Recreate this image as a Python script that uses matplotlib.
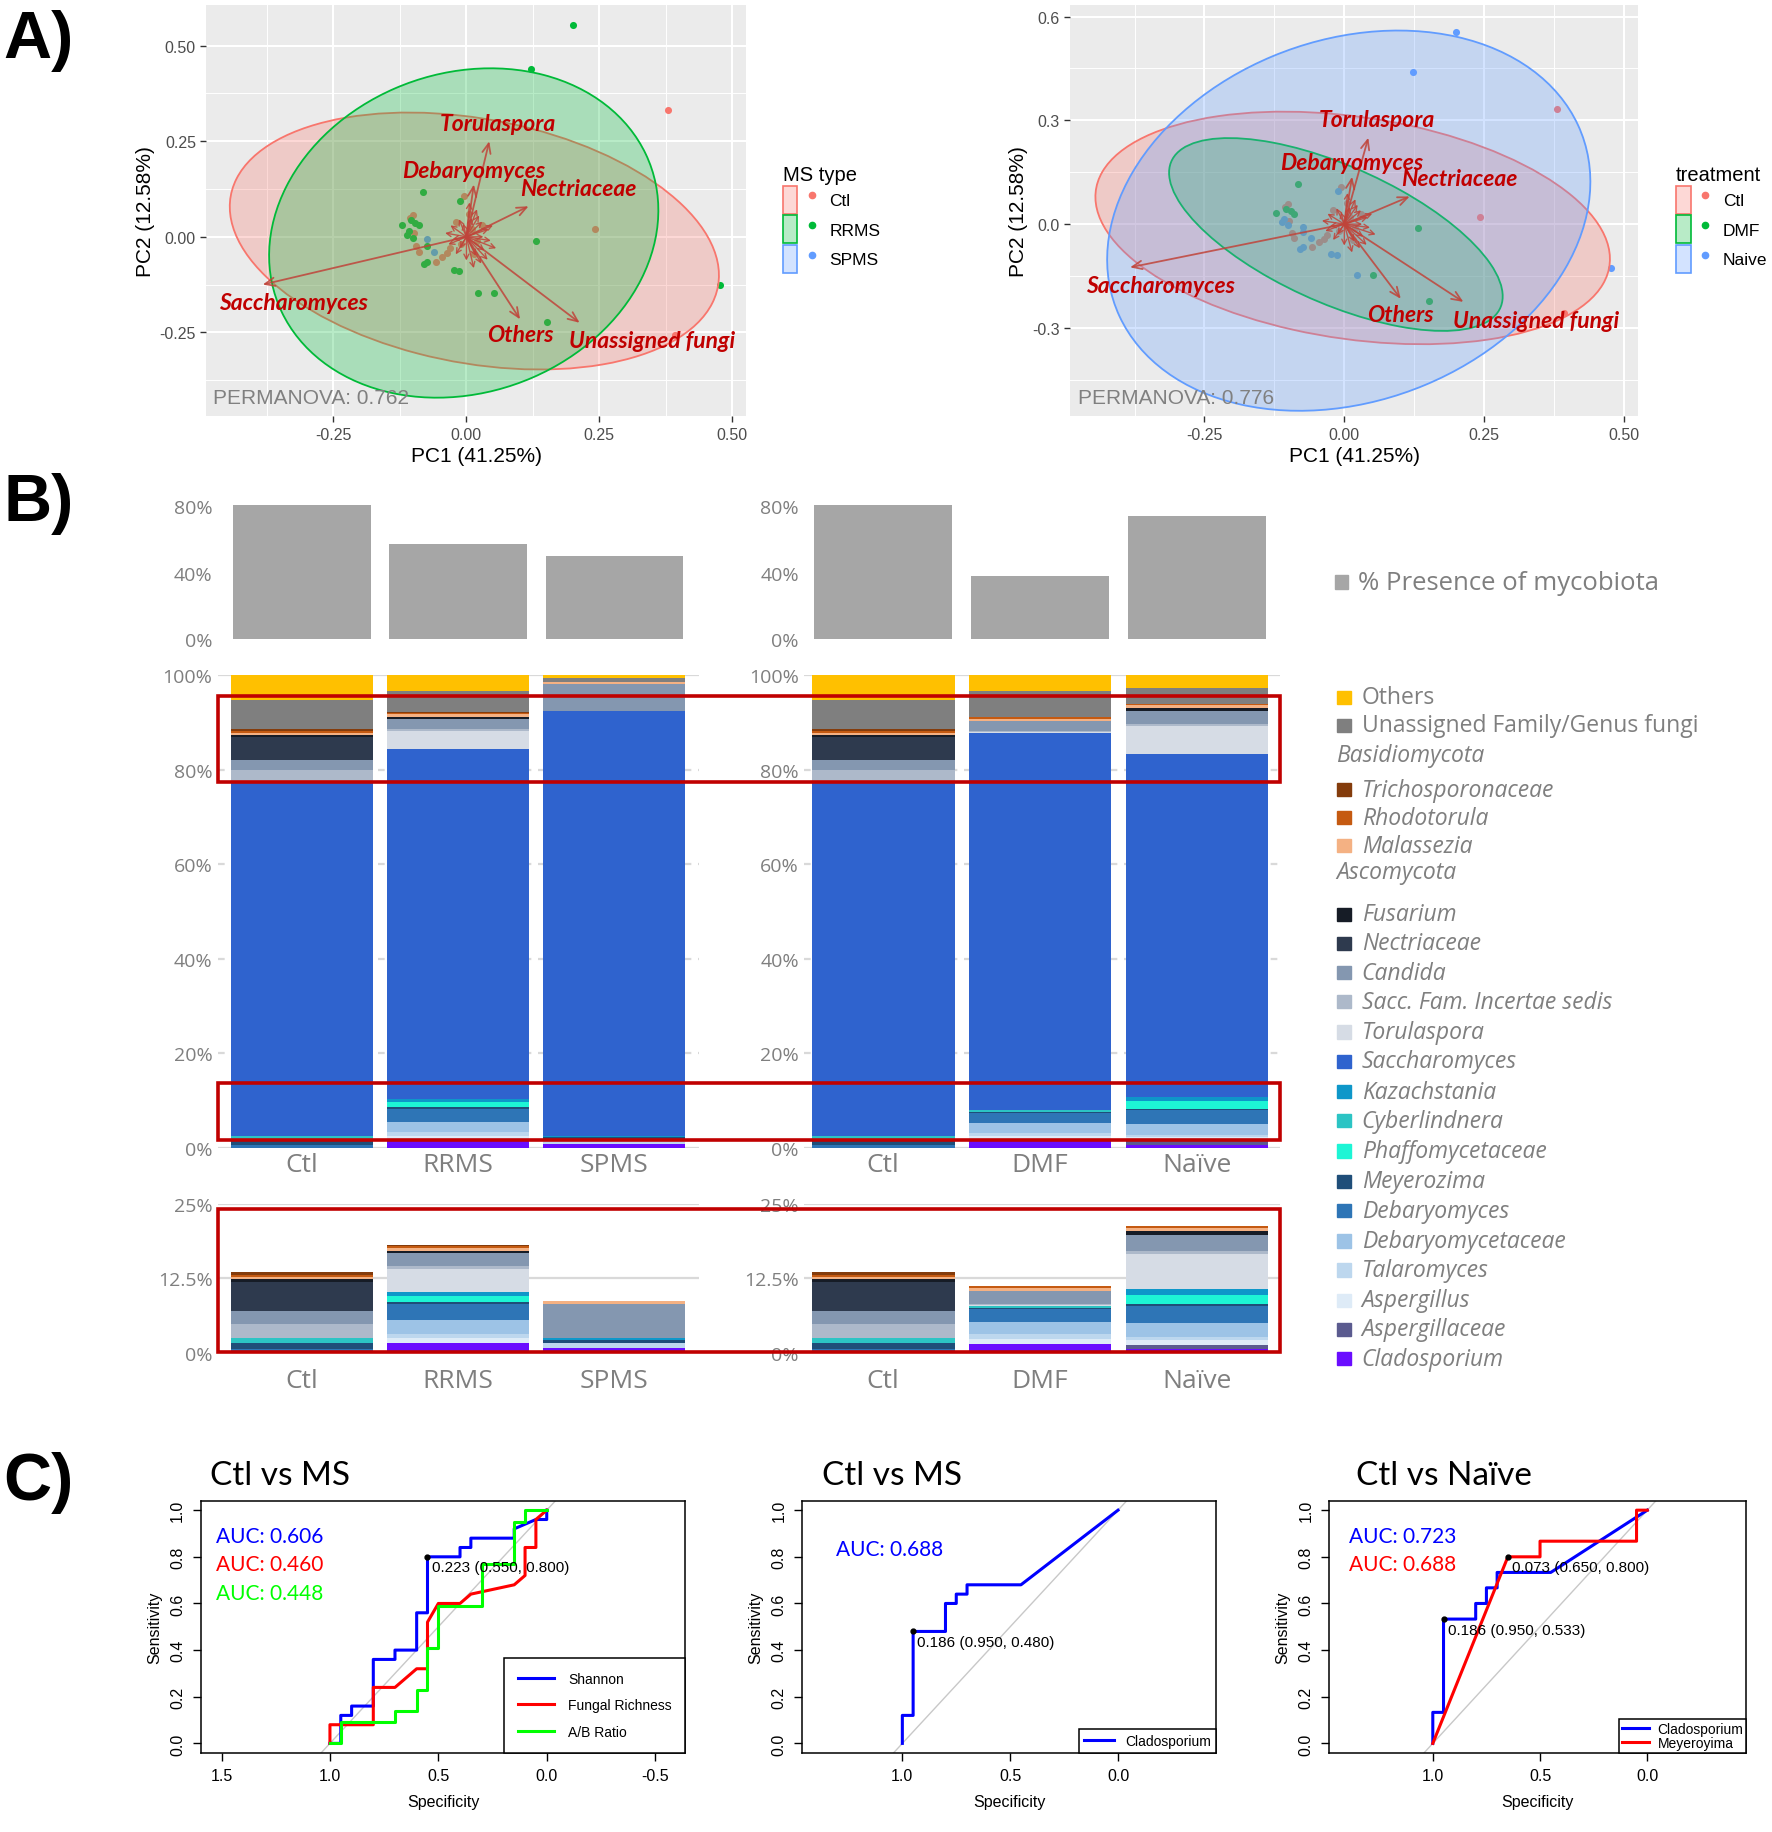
import matplotlib
matplotlib.use("Agg")
import matplotlib.pyplot as plt
from matplotlib.patches import Ellipse, Rectangle, Patch
from matplotlib.lines import Line2D
from matplotlib.legend_handler import HandlerTuple
from matplotlib.colors import to_rgba

plt.rcParams['font.family'] = ['Liberation Sans', 'DejaVu Sans']

# ======================= DATA =======================
# ---- Panel A: PCA scores ----
ctl_pc1 = [0.380, 0.242, 0.392, -0.106, -0.100, -0.098, -0.094, -0.090, -0.058, -0.045,
           -0.037, -0.030, -0.005, 0.010, 0.020, -0.010, 0.030, 0.015, -0.020, 0.005]
ctl_pc2 = [0.333, 0.021, -0.258, 0.050, 0.058, 0.010, -0.025, -0.040, -0.066, -0.052,
           -0.042, -0.030, 0.106, 0.020, -0.010, -0.020, 0.030, -0.045, 0.040, 0.060]
ms_pc1 = [0.200, 0.122, 0.476, -0.082, -0.012, 0.131, 0.022, 0.052, 0.152, -0.023, -0.013, -0.080,
          -0.074, -0.122, -0.096, -0.112, -0.101, -0.074, -0.074, -0.104, -0.108, -0.090, -0.060]
ms_pc2 = [0.555, 0.439, -0.126, 0.117, 0.095, -0.011, -0.146, -0.148, -0.222, -0.087, -0.089, -0.072,
          -0.066, 0.032, 0.037, 0.006, -0.003, -0.024, -0.007, 0.043, 0.015, 0.030, -0.040]
ms_type = ['RRMS'] * 18 + ['SPMS'] + ['RRMS', 'RRMS', 'RRMS', 'SPMS']
ms_treatment = ['Naive', 'Naive', 'Naive', 'DMF', 'Naive', 'DMF', 'Naive', 'DMF', 'DMF', 'Naive',
                'Naive', 'Naive', 'Naive', 'DMF', 'DMF', 'Naive', 'Naive', 'Naive', 'Naive', 'DMF',
                'Naive', 'DMF', 'Naive']

load_names = ['Saccharomyces', 'Torulaspora', 'Debaryomyces', 'Nectriaceae', 'Others', 'Unassigned fungi']
load_pc1 = [-0.383, 0.043, 0.014, 0.117, 0.101, 0.213]
load_pc2 = [-0.125, 0.250, 0.137, 0.080, -0.216, -0.225]
minor_pc1 = [0.030, 0.042, 0.046, 0.034, 0.018, 0.000, -0.020, -0.034, -0.040, -0.030, -0.014, 0.010,
             0.024, 0.050, 0.056, 0.014, -0.012, 0.032, -0.026, 0.020, 0.006, 0.040, 0.028, -0.006]
minor_pc2 = [0.040, 0.020, -0.010, -0.036, -0.050, -0.062, -0.046, -0.020, 0.010, 0.030, 0.046, 0.050,
             0.056, 0.030, -0.030, -0.082, -0.030, 0.000, -0.006, 0.072, 0.090, -0.060, -0.070, 0.035]

# confidence ellipses: centre x, centre y, width, height, angle
ell_ctl = [0.015, -0.011, 0.952, 0.626, -20]
ell_rrms = [-0.005, 0.010, 0.710, 0.880, -20]
ell_dmf = [-0.015, -0.030, 0.740, 0.345, -42]
ell_naive = [0.008, 0.010, 0.822, 1.131, -20]
permanova_ms = 0.762
permanova_trt = 0.776

# ---- Panel B: relative abundances (%) ----
groups_ms = ['Ctl', 'RRMS', 'SPMS']
groups_trt = ['Ctl', 'DMF', 'Naïve']
presence_ms = [81, 57, 50]
presence_trt = [81, 38, 74]

taxa = ['Others', 'Unassigned Family/Genus fungi', 'Trichosporonaceae', 'Rhodotorula', 'Malassezia',
        'Fusarium', 'Nectriaceae', 'Candida', 'Sacc. Fam. Incertae sedis', 'Torulaspora',
        'Saccharomyces', 'Kazachstania', 'Cyberlindnera', 'Phaffomycetaceae', 'Meyerozima',
        'Debaryomyces', 'Debaryomycetaceae', 'Talaromyces', 'Aspergillus', 'Aspergillaceae',
        'Cladosporium']
taxa_colors = ['#FFC000', '#7F7F7F', '#843C0C', '#C55A11', '#F4B183',
               '#161C26', '#2E3A4E', '#8497B0', '#ADB9CA', '#D6DCE5',
               '#2F63CE', '#0E97C9', '#2CC4C4', '#1DF5D5', '#1F4E79',
               '#2E75B6', '#9DC3E6', '#BDD7EE', '#DEEBF7', '#5B5B8F',
               '#6A0DFF']
ctl_ab = [5.25, 6.10, 0.45, 0.40, 0.40, 0.45, 4.80, 2.25, 2.30, 0.00, 75.10,
          0.00, 0.80, 0.00, 1.10, 0.60, 0.00, 0.00, 0.00, 0.00, 0.00]
rrms_ab = [3.40, 4.40, 0.15, 0.30, 0.50, 0.45, 0.00, 2.15, 0.40, 3.90, 74.15,
           0.65, 0.00, 1.00, 0.30, 2.75, 2.30, 0.80, 0.80, 0.00, 1.60]
spms_ab = [0.50, 0.90, 0.00, 0.00, 0.40, 0.00, 0.00, 5.80, 0.00, 0.00, 89.95,
           0.30, 0.00, 0.00, 0.55, 0.00, 0.00, 0.80, 0.00, 0.00, 0.80]
dmf_ab = [3.40, 5.50, 0.00, 0.30, 0.45, 0.00, 0.00, 2.10, 0.20, 0.20, 80.00,
          0.00, 0.30, 0.00, 0.30, 2.10, 2.00, 0.80, 0.80, 0.00, 1.55]
naive_ab = [2.70, 3.45, 0.00, 0.20, 0.50, 0.65, 0.00, 2.75, 0.55, 5.80, 72.70,
            0.95, 0.00, 1.55, 0.30, 2.90, 2.30, 0.50, 0.90, 0.70, 0.60]
zoom_excluded = ['Others', 'Unassigned Family/Genus fungi', 'Saccharomyces']

# ---- Panel C: ROC curves (specificity, sensitivity) ----
shannon_spec = [1.0, 0.95, 0.95, 0.90, 0.90, 0.80, 0.80, 0.70, 0.70, 0.60, 0.60, 0.55, 0.55, 0.40, 0.40,
                0.35, 0.35, 0.15, 0.15, 0.05, 0.0, 0.0]
shannon_sens = [0.0, 0.0, 0.12, 0.12, 0.16, 0.16, 0.36, 0.36, 0.40, 0.40, 0.56, 0.56, 0.80, 0.80, 0.84,
                0.84, 0.88, 0.88, 0.92, 0.96, 0.96, 1.0]
rich_spec = [1.0, 1.0, 0.80, 0.80, 0.70, 0.60, 0.55, 0.55, 0.50, 0.40, 0.35, 0.30, 0.15, 0.10, 0.10,
             0.05, 0.05, 0.0]
rich_sens = [0.0, 0.08, 0.08, 0.24, 0.24, 0.32, 0.32, 0.52, 0.60, 0.60, 0.64, 0.65, 0.68, 0.72, 0.84,
             0.84, 0.96, 1.0]
ab_spec = [1.0, 0.95, 0.95, 0.70, 0.70, 0.60, 0.60, 0.55, 0.55, 0.50, 0.50, 0.30, 0.30, 0.15, 0.15,
           0.10, 0.10, 0.0]
ab_sens = [0.0, 0.0, 0.09, 0.09, 0.14, 0.14, 0.23, 0.23, 0.41, 0.41, 0.59, 0.59, 0.77, 0.77, 0.95,
           0.95, 1.0, 1.0]
auc_c1 = ['AUC: 0.606', 'AUC: 0.460', 'AUC: 0.448']
thr_c1 = (0.55, 0.80, '0.223 (0.550, 0.800)')

clado_ms_spec = [1.0, 1.0, 0.95, 0.95, 0.80, 0.80, 0.75, 0.75, 0.70, 0.70, 0.45, 0.0]
clado_ms_sens = [0.0, 0.12, 0.12, 0.48, 0.48, 0.60, 0.60, 0.64, 0.64, 0.68, 0.68, 1.0]
auc_c2 = ['AUC: 0.688']
thr_c2 = (0.95, 0.48, '0.186 (0.950, 0.480)')

clado_nv_spec = [1.0, 1.0, 0.95, 0.95, 0.80, 0.80, 0.75, 0.75, 0.70, 0.70, 0.45, 0.0]
clado_nv_sens = [0.0, 0.133, 0.133, 0.533, 0.533, 0.60, 0.60, 0.667, 0.667, 0.733, 0.733, 1.0]
meyer_spec = [1.0, 0.65, 0.50, 0.50, 0.05, 0.05, 0.0]
meyer_sens = [0.0, 0.80, 0.80, 0.867, 0.867, 1.0, 1.0]
auc_c3 = ['AUC: 0.723', 'AUC: 0.688']
thr_c3 = [(0.65, 0.80, '0.073 (0.650, 0.800)'), (0.95, 0.533, '0.186 (0.950, 0.533)')]

# ======================= FIGURE =======================
W, H = 1520.0, 1572.0
fig = plt.figure(figsize=(17.72, 18.33), dpi=100)
fig.patch.set_facecolor('white')


def add_ax(x0, y0, x1, y1):
    return fig.add_axes([x0 / W, 1 - y1 / H, (x1 - x0) / W, (y1 - y0) / H])


GG_RED, GG_GREEN, GG_BLUE = '#F8766D', '#00BA38', '#619CFF'
LOAD_COL = '#C0443A'
LAB_COL = '#C00000'
label_offsets = [(22, -13), (6, 13), (0, 10), (36, 13), (0, -11), (52, -13)]


def pca_panel(ax, xlim, ylim, xticks, yticks, xlabs, ylabs, pts, ells, leg_title, leg_labels, perm):
    ax.set_facecolor('#EBEBEB')
    ax.set_xticks(xticks)
    ax.set_xticklabels(xlabs)
    ax.set_yticks(yticks)
    ax.set_yticklabels(ylabs)
    dx = xticks[1] - xticks[0]
    dy = yticks[1] - yticks[0]
    ax.set_xticks([t - dx / 2 for t in xticks] + [xticks[-1] + dx / 2], minor=True)
    ax.set_yticks([t - dy / 2 for t in yticks] + [yticks[-1] + dy / 2], minor=True)
    ax.set_xlim(xlim)
    ax.set_ylim(ylim)
    ax.grid(which='major', color='white', lw=1.5)
    ax.grid(which='minor', color='white', lw=0.7)
    ax.tick_params(which='minor', length=0)
    ax.tick_params(which='major', length=4, width=1, color='#333333', labelcolor='#4D4D4D',
                   labelsize=11.5)
    ax.set_axisbelow(True)
    for sp in ax.spines.values():
        sp.set_visible(False)
    for xs, ys, c in pts:
        ax.scatter(xs, ys, s=26, color=c, linewidths=0, zorder=2)
    for (cx, cy, w, h, ang), c in ells:
        ax.add_patch(Ellipse((cx, cy), w, h, angle=ang, facecolor=to_rgba(c, 0.28),
                             edgecolor='none', zorder=3))
        ax.add_patch(Ellipse((cx, cy), w, h, angle=ang, facecolor='none',
                             edgecolor=c, lw=1.3, zorder=3))
    for mx, my in zip(minor_pc1, minor_pc2):
        ax.annotate('', xy=(mx, my), xytext=(0, 0),
                    arrowprops=dict(arrowstyle='->,head_length=0.35,head_width=0.18',
                                    color=LOAD_COL, lw=1.0, alpha=0.85, shrinkA=0, shrinkB=0),
                    zorder=4)
    for name, lx, ly, off in zip(load_names, load_pc1, load_pc2, label_offsets):
        ax.annotate('', xy=(lx, ly), xytext=(0, 0),
                    arrowprops=dict(arrowstyle='->,head_length=0.7,head_width=0.3',
                                    color=LOAD_COL, lw=1.3, alpha=0.85, shrinkA=0, shrinkB=0),
                    zorder=4)
        ax.annotate(name, xy=(lx, ly), xytext=off, textcoords='offset points',
                    ha='center', va='center', color=LAB_COL, fontsize=16.5,
                    fontstyle='italic', fontweight='bold', family=['Lato', 'DejaVu Sans'], zorder=5)
    ax.text(0.013, 0.045, 'PERMANOVA: %.3f' % perm, transform=ax.transAxes, ha='left',
            va='center', fontsize=15, color='#808080', zorder=6)
    ax.set_xlabel('PC1 (41.25%)', fontsize=15, labelpad=3)
    ax.set_ylabel('PC2 (12.58%)', fontsize=15, labelpad=3)
    handles = []
    for (xs, ys, c) in pts:
        handles.append((Patch(facecolor=to_rgba(c, 0.28), edgecolor=c, lw=1.2),
                        Line2D([], [], marker='o', ls='', color=c, ms=4.5)))
    leg = ax.legend(handles, leg_labels, title=leg_title, loc='center left',
                    bbox_to_anchor=(1.055, 0.48), frameon=False, fontsize=12.5,
                    title_fontsize=14.5, handlelength=2.1, handleheight=2.1, labelspacing=0.1,
                    handletextpad=0.6, borderaxespad=0, alignment='left',
                    handler_map={tuple: HandlerTuple(ndivide=None)})
    return leg


# ---- Panel A left ----
axA1 = add_ax(177, 5, 640, 358)
pts_ms = [
    (ctl_pc1, ctl_pc2, GG_RED),
    ([x for x, t in zip(ms_pc1, ms_type) if t == 'RRMS'], [y for y, t in zip(ms_pc2, ms_type) if t == 'RRMS'], GG_GREEN),
    ([x for x, t in zip(ms_pc1, ms_type) if t == 'SPMS'], [y for y, t in zip(ms_pc2, ms_type) if t == 'SPMS'], GG_BLUE),
]
pca_panel(axA1, (-0.489, 0.526), (-0.47, 0.607), [-0.25, 0, 0.25, 0.5], [-0.25, 0, 0.25, 0.5],
          ['-0.25', '0.00', '0.25', '0.50'], ['-0.25', '0.00', '0.25', '0.50'],
          pts_ms, [(ell_ctl, GG_RED), (ell_rrms, GG_GREEN)], 'MS type', ['Ctl', 'RRMS', 'SPMS'],
          permanova_ms)

# ---- Panel A right ----
axA2 = add_ax(918, 5, 1405, 358)
pts_trt = [
    (ctl_pc1, ctl_pc2, GG_RED),
    ([x for x, t in zip(ms_pc1, ms_treatment) if t == 'DMF'], [y for y, t in zip(ms_pc2, ms_treatment) if t == 'DMF'], GG_GREEN),
    ([x for x, t in zip(ms_pc1, ms_treatment) if t == 'Naive'], [y for y, t in zip(ms_pc2, ms_treatment) if t == 'Naive'], GG_BLUE),
]
pca_panel(axA2, (-0.49, 0.525), (-0.556, 0.634), [-0.25, 0, 0.25, 0.5], [-0.3, 0, 0.3, 0.6],
          ['-0.25', '0.00', '0.25', '0.50'], ['-0.3', '0.0', '0.3', '0.6'],
          pts_trt, [(ell_ctl, GG_RED), (ell_dmf, GG_GREEN), (ell_naive, GG_BLUE)], 'treatment',
          ['Ctl', 'DMF', 'Naive'], permanova_trt)

# ---- Panel B ----
GRAY_TXT = '#7F7F7F'
BFONT = ['Open Sans', 'DejaVu Sans']


def style_b(ax, xlim, ylim, yt, ytl, xlabels=None, pad=4):
    for sp in ax.spines.values():
        sp.set_visible(False)
    ax.set_yticks(yt)
    ax.set_yticklabels(ytl, fontsize=14, color=GRAY_TXT, family=BFONT)
    ax.tick_params(axis='both', length=0, pad=4)
    if xlabels is None:
        ax.set_xticks([])
    else:
        ax.set_xticks(range(len(xlabels)))
        ax.set_xticklabels(xlabels, fontsize=19, color=GRAY_TXT, family=BFONT)
        ax.tick_params(axis='x', pad=pad)
    ax.set_xlim(xlim)
    ax.set_ylim(ylim)
    ax.set_facecolor('none')


def stack(ax, datasets, skip=()):
    for gi, vals in enumerate(datasets):
        bottom = 0.0
        for ti in range(len(taxa) - 1, -1, -1):
            if taxa[ti] in skip:
                continue
            v = vals[ti]
            if v > 0:
                ax.bar(gi, v, bottom=bottom, width=0.91, color=taxa_colors[ti], linewidth=0,
                       zorder=2, clip_on=False)
            bottom += v


xl_L = (-0.537, 2.545)
xl_R = (-0.502, 2.53)

axLp = add_ax(187, 432, 600, 549)
axRp = add_ax(690, 432, 1098, 549)
for ax, pres, xl in [(axLp, presence_ms, xl_L), (axRp, presence_trt, xl_R)]:
    style_b(ax, xl, (0, 82.1), [0, 40, 80], ['0%', '40%', '80%'])
    ax.bar(range(3), pres, width=0.88, color='#A6A6A6', linewidth=0)

axLm = add_ax(187, 580, 600, 985)
axRm = add_ax(690, 580, 1098, 985)
for ax, ds, xl, gl in [(axLm, [ctl_ab, rrms_ab, spms_ab], xl_L, groups_ms),
                       (axRm, [ctl_ab, dmf_ab, naive_ab], xl_R, groups_trt)]:
    style_b(ax, xl, (0, 100), [0, 20, 40, 60, 80, 100],
            ['0%', '20%', '40%', '60%', '80%', '100%'], gl, pad=3)
    for yv in [20, 40, 60, 80]:
        ax.axhline(yv, color='#D9D9D9', lw=1.6, ls=(0, (3, 3)), zorder=1)
    ax.axhline(100, color='#D9D9D9', lw=1.6, zorder=1)
    ax.axhline(0, color='#D9D9D9', lw=1.6, zorder=1)
    stack(ax, ds)

axLz = add_ax(187, 1033, 600, 1161)
axRz = add_ax(690, 1033, 1098, 1161)
for ax, ds, xl, gl in [(axLz, [ctl_ab, rrms_ab, spms_ab], xl_L, groups_ms),
                       (axRz, [ctl_ab, dmf_ab, naive_ab], xl_R, groups_trt)]:
    style_b(ax, xl, (0, 25), [0, 12.5, 25], ['0%', '12.5%', '25%'], gl, pad=11)
    for yv in [0, 12.5, 25]:
        ax.axhline(yv, color='#D9D9D9', lw=1.6, zorder=1)
    stack(ax, ds, skip=zoom_excluded)

# red highlight rectangles
inv = fig.transFigure.inverted()


def red_box(axl, axr, xl, xr, y0, y1):
    p0 = inv.transform(axl.transData.transform((xl, y0)))
    p1 = inv.transform(axr.transData.transform((xr, y1)))
    fig.add_artist(Rectangle((p0[0], p0[1]), p1[0] - p0[0], p1[1] - p0[1],
                             transform=fig.transFigure, fill=False, edgecolor='#C00000',
                             lw=2.6, zorder=10))


red_box(axLm, axRm, -0.537, 2.53, 77.5, 95.6)
red_box(axLm, axRm, -0.537, 2.53, 1.7, 13.6)
red_box(axLz, axRz, -0.537, 2.53, 0.2, 24.0)

# legend for B
SQ = 11.5
fig.add_artist(Rectangle((1145 / W, 1 - (500 + SQ / 2) / H), SQ / W, SQ / H,
                         transform=fig.transFigure, color='#A6A6A6'))
fig.text(1165 / W, 1 - 500 / H, '% Presence of mycobiota', fontsize=18.5, color=GRAY_TXT,
         family=BFONT, va='center', ha='left')
row_y = {'Others': 599, 'Unassigned Family/Genus fungi': 623, 'Trichosporonaceae': 678,
         'Rhodotorula': 702, 'Malassezia': 726, 'Fusarium': 785, 'Nectriaceae': 810,
         'Candida': 835, 'Sacc. Fam. Incertae sedis': 860, 'Torulaspora': 886,
         'Saccharomyces': 911, 'Kazachstania': 937, 'Cyberlindnera': 962,
         'Phaffomycetaceae': 988, 'Meyerozima': 1014, 'Debaryomyces': 1039,
         'Debaryomycetaceae': 1065, 'Talaromyces': 1090, 'Aspergillus': 1116,
         'Aspergillaceae': 1141, 'Cladosporium': 1166}
for name, col in zip(taxa, taxa_colors):
    yy = row_y[name]
    fig.add_artist(Rectangle((1147 / W, 1 - (yy + SQ / 2) / H), SQ / W, SQ / H,
                             transform=fig.transFigure, color=col))
    style = 'normal' if name in ('Others', 'Unassigned Family/Genus fungi') else 'italic'
    fig.text(1168 / W, 1 - yy / H, name, fontsize=16.5, color=GRAY_TXT, family=BFONT,
             va='center', ha='left', fontstyle=style)
for hdr, yy in [('Basidiomycota', 648), ('Ascomycota', 749)]:
    fig.text(1146 / W, 1 - yy / H, hdr, fontsize=16.5, color=GRAY_TXT, family=BFONT,
             va='center', ha='left', fontstyle='italic')

# ---- Panel C ----
RFONT = ['Liberation Sans', 'DejaVu Sans']


def roc_panel(ax, xlim, xticks, curves, aucs, auc_xy, thrs, title, title_x, leg_kw):
    ax.axline((1, 0), (0, 1), color='#C8C8C8', lw=1.0, zorder=1)
    for spec, sens, col, lab in curves:
        ax.plot(spec, sens, color=col, lw=2.2, label=lab, zorder=3)
    for (sx, sy, txt) in thrs:
        ax.plot([sx], [sy], 'o', color='black', ms=3.5, zorder=4)
        ax.text(sx - 0.02, sy - 0.045, txt, ha='left', va='center', fontsize=11,
                family=RFONT, color='black', zorder=5)
    for i, (txt, (_, _, col, _)) in enumerate(zip(aucs, curves)):
        ax.text(auc_xy[0], auc_xy[1] - i * 0.122, txt, ha='left', va='center', color=col,
                fontsize=15, family=['Lato', 'DejaVu Sans'])
    ax.set_xticks(xticks)
    ax.set_xticklabels(['%.1f' % t for t in xticks], family=RFONT)
    ax.set_yticks([0, 0.2, 0.4, 0.6, 0.8, 1.0])
    ax.set_yticklabels(['0.0', '0.2', '0.4', '0.6', '0.8', '1.0'], rotation=90, va='center',
                       family=RFONT)
    ax.set_xlim(xlim)
    ax.set_ylim(-0.04, 1.04)
    ax.tick_params(direction='out', length=6, width=1, labelsize=11.5, pad=5)
    for sp in ax.spines.values():
        sp.set_linewidth(1.1)
    ax.set_xlabel('Specificity', fontsize=11.5, labelpad=8, family=RFONT)
    ax.set_ylabel('Sensitivity', fontsize=11.5, labelpad=6, family=RFONT)
    leg = ax.legend(loc='lower right', bbox_to_anchor=(1.0, 0.0), borderaxespad=0,
                    fancybox=False, edgecolor='black', framealpha=1, prop={'family': RFONT},
                    **leg_kw)
    leg.get_frame().set_linewidth(1.1)
    fig.text(title_x / W, 1 - 1266 / H, title, fontsize=24, family=['Lato', 'DejaVu Sans'],
             ha='left', va='center')


axC1 = add_ax(172, 1288, 588, 1504)
roc_panel(axC1, (1.597, -0.640), [1.5, 1.0, 0.5, 0.0, -0.5],
          [(shannon_spec, shannon_sens, '#0000FF', 'Shannon'),
           (rich_spec, rich_sens, '#FF0000', 'Fungal Richness'),
           (ab_spec, ab_sens, '#00FF00', 'A/B Ratio')],
          auc_c1, (1.527, 0.89), [thr_c1], 'Ctl vs MS', 180,
          dict(fontsize=11, labelspacing=0.9, handlelength=2.6, borderpad=1.0, handletextpad=1.0))

axC2 = add_ax(688, 1288, 1043, 1504)
roc_panel(axC2, (1.465, -0.454), [1.0, 0.5, 0.0],
          [(clado_ms_spec, clado_ms_sens, '#0000FF', 'Cladosporium')],
          auc_c2, (1.308, 0.835), [thr_c2], 'Ctl vs MS', 705,
          dict(fontsize=11, borderpad=0.35, handlelength=2.2, handletextpad=0.8))

axC3 = add_ax(1140, 1288, 1498, 1504)
roc_panel(axC3, (1.484, -0.462), [1.0, 0.5, 0.0],
          [(clado_nv_spec, clado_nv_sens, '#0000FF', 'Cladosporium'),
           (meyer_spec, meyer_sens, '#FF0000', 'Meyeroyima')],
          auc_c3, (1.39, 0.89), thr_c3, 'Ctl vs Naïve', 1163,
          dict(fontsize=11, borderpad=0.2, labelspacing=0.0, handlelength=2.0, handletextpad=0.6))

# panel letters
for letter, yy in [('A)', 35), ('B)', 432), ('C)', 1272)]:
    fig.text(3 / W, 1 - yy / H, letter, fontsize=48, fontweight='bold', family=RFONT,
             ha='left', va='center')

fig.savefig('out.png', dpi=100, facecolor='white')
